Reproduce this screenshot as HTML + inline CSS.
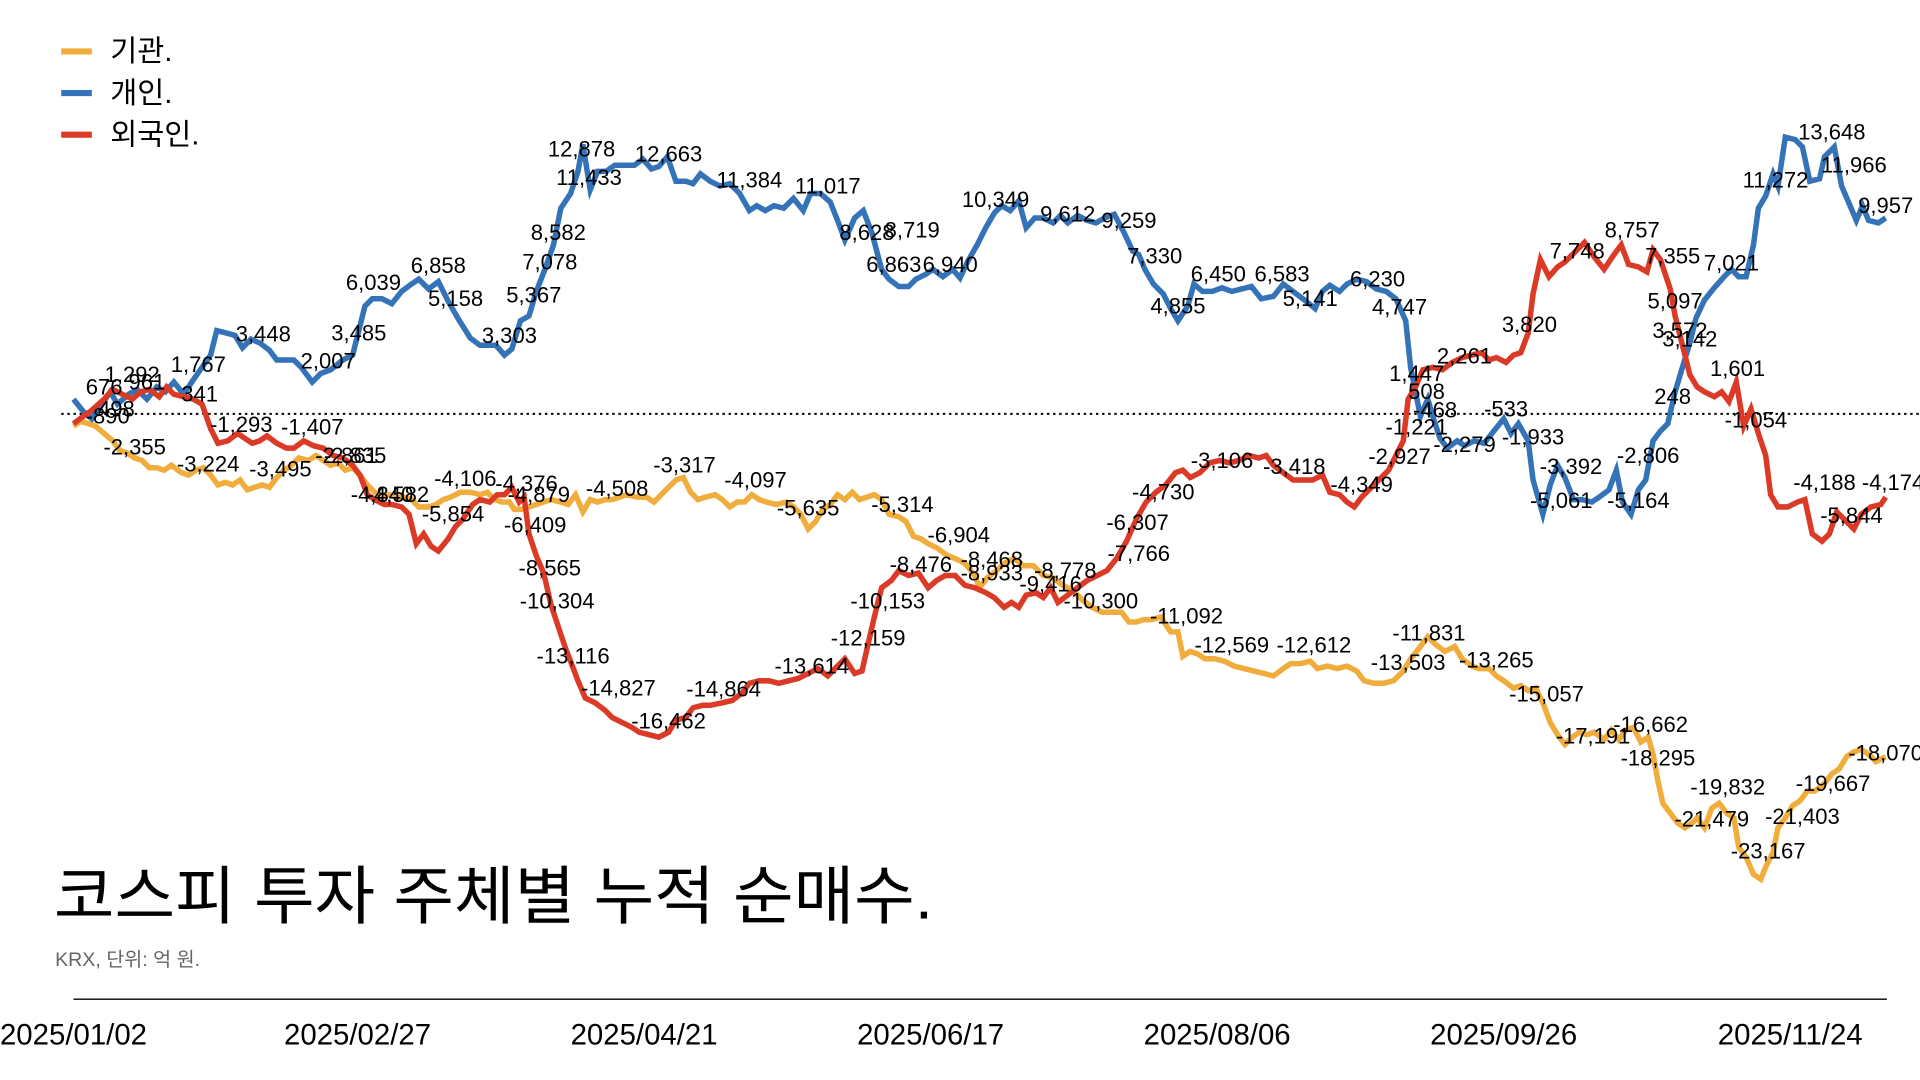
<!DOCTYPE html>
<html><head><meta charset="utf-8"><style>
html,body{margin:0;padding:0;background:#fff;}
svg{display:block;}
text{font-family:"Liberation Sans","Noto Sans CJK KR",sans-serif;}
.l{font-size:18px;fill:#000;text-anchor:middle;}
</style></head><body>
<svg width="1920" height="1080" viewBox="0 0 1568 882" preserveAspectRatio="none" xmlns="http://www.w3.org/2000/svg">
<rect width="1568" height="882" fill="#fff"/>
<line x1="50" y1="338" x2="1568" y2="338" stroke="#000" stroke-width="1.6" stroke-dasharray="2,3"/>
<line x1="60" y1="816" x2="1541" y2="816" stroke="#000" stroke-width="1.2"/>
<g font-size="24" text-anchor="middle" fill="#000">
<text x="60" y="853">2025/01/02</text><text x="292" y="853">2025/02/27</text><text x="526" y="853">2025/04/21</text><text x="760" y="853">2025/06/17</text><text x="994" y="853">2025/08/06</text><text x="1228" y="853">2025/09/26</text><text x="1462" y="853">2025/11/24</text>
</g>
<text x="44" y="750" font-size="52" fill="#000" textLength="718" lengthAdjust="spacingAndGlyphs">코스피 투자 주체별 누적 순매수.</text>
<text x="45" y="789" font-size="16" fill="#666">KRX, 단위: 억 원.</text>
<g font-size="24" fill="#000">
<line x1="50" y1="42" x2="75" y2="42" stroke="#f0ad3c" stroke-width="5"/><text x="90" y="50">기관.</text>
<line x1="50" y1="76" x2="75" y2="76" stroke="#3573b9" stroke-width="5"/><text x="90" y="84">개인.</text>
<line x1="50" y1="110" x2="75" y2="110" stroke="#db3b26" stroke-width="5"/><text x="90" y="118">외국인.</text>
</g>
<g fill="none" stroke-width="4.5" stroke-linejoin="miter">
<polyline stroke="#f0ad3c" points="60,348 66,344 72,346 78,348 85,354 92,360 98,368 104,370 110,374 116,376 122,382 128,382 134,384 140,380 148,386 154,388 160,384 166,382 172,388 178,396 184,394 190,396 196,392 202,400 208,398 214,396 220,398 226,390 232,384 238,380 244,374 252,376 258,372 264,376 270,380 276,378 282,384 288,382 294,388 300,396 306,402 312,406 318,404 324,406 330,406 336,408 342,414 350,414 356,412 362,408 368,406 376,402 384,402 392,404 398,402 404,408 410,410 416,410 420,416 426,416 432,414 438,412 444,410 450,408 458,410 464,412 470,404 476,418 482,408 488,410 494,408 500,408 506,406 512,404 520,406 528,406 534,410 540,404 546,398 552,392 558,390 564,402 570,408 576,406 584,404 590,408 596,414 602,410 608,410 614,404 620,408 626,410 634,412 642,410 648,414 654,420 660,432 666,426 672,416 678,412 684,404 690,408 696,402 702,408 708,406 714,404 720,408 726,420 734,422 740,426 746,438 752,440 758,444 766,448 774,454 780,456 788,460 796,470 800,480 806,472 814,466 820,460 828,456 836,462 844,462 852,470 860,472 868,478 876,482 884,490 892,496 900,500 908,500 916,500 922,508 928,508 934,506 940,506 948,504 956,516 962,516 966,536 972,532 978,534 984,538 992,538 1000,540 1008,544 1016,546 1024,548 1032,550 1040,552 1048,546 1054,542 1062,542 1070,540 1076,546 1084,544 1092,546 1100,544 1108,548 1114,556 1122,558 1130,558 1138,556 1146,548 1152,538 1160,528 1166,520 1172,526 1180,532 1188,528 1194,538 1202,544 1208,546 1216,546 1222,552 1228,556 1236,562 1242,560 1248,564 1254,562 1260,574 1266,590 1272,600 1278,608 1284,602 1290,598 1296,600 1302,598 1310,604 1316,596 1322,604 1328,596 1334,594 1340,606 1346,602 1350,616 1354,638 1358,656 1364,664 1370,672 1376,676 1382,672 1386,668 1392,676 1398,660 1404,656 1410,664 1416,668 1420,692 1426,700 1432,714 1438,718 1442,708 1448,696 1452,676 1458,668 1464,658 1470,654 1476,646 1482,646 1490,640 1496,632 1502,628 1508,618 1514,614 1520,612 1526,616 1532,622 1540,618"/>
<polyline stroke="#3573b9" points="60,326 68,336 75,342 82,332 90,320 96,330 105,322 112,318 120,326 128,316 135,320 142,312 150,322 158,310 165,300 172,290 177,270 185,272 192,274 198,284 205,277 212,280 220,286 226,294 234,294 240,294 246,300 255,312 262,305 270,302 280,294 288,290 298,250 304,244 312,244 320,248 328,238 336,232 342,228 350,236 358,230 366,246 374,260 384,276 392,282 398,282 405,282 412,290 418,285 425,262 432,258 438,238 445,220 452,200 458,170 466,158 472,140 476,118 482,155 488,140 495,140 502,135 510,135 518,135 525,130 532,138 538,136 545,128 552,148 560,148 566,150 572,142 580,148 588,152 596,150 604,158 612,172 618,168 625,172 632,168 640,170 648,162 656,172 662,158 670,158 678,165 684,180 690,196 698,178 705,172 712,190 720,220 726,228 734,234 742,234 748,228 756,224 762,220 770,226 778,220 784,227 790,214 798,200 805,186 812,174 818,168 825,172 832,164 838,186 845,178 852,178 860,182 866,176 872,182 880,176 888,180 895,182 902,178 910,175 918,190 925,205 930,208 935,220 942,232 950,240 956,252 962,262 970,250 975,232 982,238 990,238 998,235 1006,238 1014,236 1022,234 1030,244 1040,242 1048,232 1056,238 1064,244 1074,252 1080,238 1086,233 1094,238 1100,232 1108,228 1116,230 1124,236 1132,238 1140,244 1148,262 1152,300 1156,320 1160,340 1166,326 1172,346 1176,358 1182,366 1190,360 1196,364 1204,360 1212,362 1220,352 1228,342 1234,354 1240,346 1248,360 1252,392 1260,420 1266,396 1272,380 1278,390 1285,408 1292,408 1300,410 1306,406 1314,400 1320,384 1325,410 1332,420 1338,400 1344,392 1350,360 1356,352 1362,346 1368,320 1374,300 1380,280 1385,260 1392,245 1400,235 1408,226 1414,220 1420,226 1426,226 1432,200 1436,170 1442,160 1448,142 1452,152 1458,112 1466,114 1472,120 1478,148 1486,146 1490,128 1498,120 1504,152 1510,166 1516,180 1521,168 1526,180 1534,182 1540,178"/>
<polyline stroke="#db3b26" points="60,346 68,340 75,335 85,326 92,318 100,322 108,326 115,320 122,318 130,324 136,316 142,322 150,324 158,326 165,330 172,350 178,362 186,360 194,354 200,358 206,362 212,360 218,356 226,362 234,366 240,366 248,360 256,364 264,366 272,372 280,374 288,380 294,388 300,404 306,408 314,412 320,412 328,414 334,420 340,444 346,436 352,446 358,450 366,440 372,430 378,424 386,412 392,408 400,410 406,404 412,404 418,398 424,410 428,406 432,436 438,454 444,468 450,494 456,512 462,530 466,540 472,556 478,570 486,574 494,580 500,586 508,590 516,594 522,598 530,600 538,602 546,598 552,588 560,586 566,578 574,576 580,576 590,574 598,572 606,566 612,558 620,556 628,556 636,558 644,556 652,554 660,550 668,546 676,552 684,544 690,538 698,550 704,548 708,530 714,504 720,480 728,474 734,466 742,470 750,468 758,480 765,474 772,470 780,470 788,478 796,480 805,484 812,488 820,496 826,492 832,496 838,486 846,484 852,488 858,480 864,492 872,486 880,480 888,474 896,470 904,466 912,456 920,442 928,424 936,410 944,402 952,396 960,386 966,384 972,390 980,386 988,378 996,376 1004,378 1012,376 1020,372 1028,374 1034,372 1040,380 1048,386 1056,392 1064,392 1072,392 1080,388 1086,402 1094,404 1100,410 1106,414 1112,406 1120,398 1128,390 1134,384 1140,372 1146,360 1150,326 1156,316 1162,302 1170,300 1178,302 1186,296 1194,292 1202,290 1210,288 1216,294 1222,292 1230,296 1236,290 1242,288 1248,272 1252,240 1258,212 1265,226 1272,218 1278,214 1286,206 1294,198 1302,210 1310,220 1318,208 1324,200 1330,216 1338,218 1345,222 1350,204 1356,212 1364,236 1368,258 1374,282 1380,306 1386,316 1392,320 1400,324 1406,320 1412,328 1418,312 1424,348 1430,334 1436,354 1442,372 1446,404 1452,414 1460,414 1468,410 1474,408 1480,436 1488,442 1494,436 1500,418 1508,426 1514,432 1520,420 1528,414 1536,412 1540,406"/>
</g>
<g class="l">
<text x="88" y="346">-890</text><text x="85" y="322">676</text><text x="95" y="340">498</text><text x="108" y="312">1,292</text><text x="120" y="318">961</text><text x="162" y="304">1,767</text><text x="163" y="328">341</text>
<text x="215" y="279">3,448</text><text x="268" y="301">2,007</text><text x="293" y="278">3,485</text><text x="305" y="237">6,039</text><text x="358" y="223">6,858</text><text x="372" y="250">5,158</text><text x="416" y="280">3,303</text><text x="436" y="247">5,367</text><text x="449" y="220">7,078</text><text x="456" y="196">8,582</text><text x="475" y="128">12,878</text><text x="481" y="151">11,433</text><text x="546" y="132">12,663</text><text x="612" y="153">11,384</text><text x="676" y="158">11,017</text><text x="708" y="196">8,628</text><text x="730" y="222">6,863</text><text x="776" y="222">6,940</text><text x="745" y="194">8,719</text><text x="813" y="169">10,349</text><text x="872" y="181">9,612</text><text x="922" y="186">9,259</text><text x="943" y="215">7,330</text><text x="962" y="256">4,855</text><text x="995" y="230">6,450</text><text x="1047" y="230">6,583</text><text x="1070" y="250">5,141</text><text x="1125" y="234">6,230</text><text x="1143" y="257">4,747</text><text x="1157" y="311">1,447</text><text x="1165" y="326">508</text><text x="1172" y="341">-468</text><text x="1157" y="355">-1,221</text><text x="1196" y="369">-2,279</text><text x="1230" y="340">-533</text><text x="1252" y="363">-1,933</text><text x="1283" y="387">-3,392</text><text x="1275" y="415">-5,061</text><text x="1338" y="415">-5,164</text><text x="1346" y="378">-2,806</text><text x="1366" y="330">248</text><text x="1372" y="276">3,572</text><text x="1380" y="283">3,142</text><text x="1368" y="252">5,097</text><text x="1414" y="221">7,021</text><text x="1450" y="153">11,272</text><text x="1496" y="114">13,648</text><text x="1514" y="141">11,966</text><text x="1540" y="174">9,957</text>
<text x="197" y="353">-1,293</text><text x="255" y="355">-1,407</text><text x="290" y="378">-2,835</text><text x="325" y="410">-4,582</text><text x="370" y="426">-5,854</text><text x="430" y="401">-4,376</text><text x="437" y="435">-6,409</text><text x="449" y="470">-8,565</text><text x="455" y="497">-10,304</text><text x="468" y="542">-13,116</text><text x="505" y="568">-14,827</text><text x="546" y="595">-16,462</text><text x="591" y="569">-14,864</text><text x="663" y="550">-13,614</text><text x="709" y="527">-12,159</text><text x="725" y="497">-10,153</text><text x="752" y="467">-8,476</text><text x="810" y="463">-8,468</text><text x="858" y="483">-9,416</text><text x="930" y="458">-7,766</text><text x="929" y="433">-6,307</text><text x="950" y="408">-4,730</text><text x="998" y="382">-3,106</text><text x="1057" y="387">-3,418</text><text x="1112" y="402">-4,349</text><text x="1143" y="379">-2,927</text><text x="1196" y="297">2,261</text><text x="1249" y="271">3,820</text><text x="1288" y="211">7,748</text><text x="1333" y="194">8,757</text><text x="1366" y="215">7,355</text><text x="1419" y="307">1,601</text><text x="1434" y="349">-1,054</text><text x="1490" y="400">-4,188</text><text x="1546" y="400">-4,174</text><text x="1512" y="427">-5,844</text>
<text x="110" y="371">-2,355</text><text x="170" y="385">-3,224</text><text x="229" y="389">-3,495</text><text x="283" y="378">-2,861</text><text x="312" y="410">-4,840</text><text x="380" y="397">-4,106</text><text x="440" y="410">-4,879</text><text x="504" y="405">-4,508</text><text x="559" y="386">-3,317</text><text x="617" y="398">-4,097</text><text x="660" y="421">-5,635</text><text x="737" y="418">-5,314</text><text x="783" y="443">-6,904</text><text x="810" y="474">-8,933</text><text x="870" y="472">-8,778</text><text x="899" y="497">-10,300</text><text x="969" y="509">-11,092</text><text x="1006" y="533">-12,569</text><text x="1073" y="533">-12,612</text><text x="1150" y="547">-13,503</text><text x="1167" y="523">-11,831</text><text x="1222" y="545">-13,265</text><text x="1263" y="573">-15,057</text><text x="1301" y="607">-17,191</text><text x="1348" y="598">-16,662</text><text x="1354" y="625">-18,295</text><text x="1411" y="649">-19,832</text><text x="1398" y="675">-21,479</text><text x="1472" y="673">-21,403</text><text x="1497" y="646">-19,667</text><text x="1444" y="701">-23,167</text><text x="1540" y="621">-18,070</text>
</g>
</svg>
</body></html>
